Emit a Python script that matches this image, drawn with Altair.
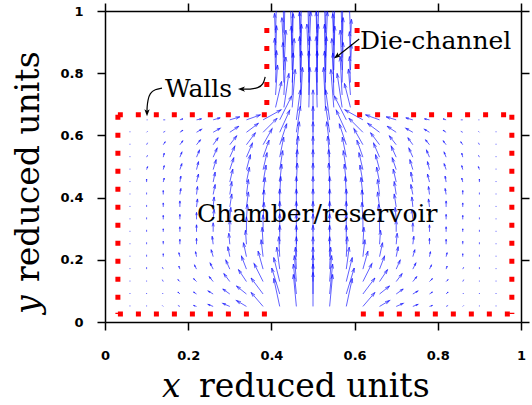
import math
import numpy as np
import pandas as pd
import altair as alt

# ---------------- data ----------------
tick_values = [0, 0.2, 0.4, 0.6, 0.8, 1]

# chamber grid (x columns, y rows)
col_x = [0.06, 0.10, 0.14, 0.18, 0.22, 0.26, 0.30, 0.34, 0.38, 0.42, 0.46, 0.50,
         0.54, 0.58, 0.62, 0.66, 0.70, 0.74, 0.78, 0.82, 0.86, 0.90, 0.94]
row_y = [0.05, 0.09, 0.13, 0.17, 0.21, 0.25, 0.29, 0.33, 0.37, 0.41, 0.45, 0.49,
         0.53, 0.57, 0.61, 0.65]

# velocity components (drawn length, px) read row by row
u05 = [0, 0, -1, -2, -3, -5, -7, -10, -12, -6, -3, 0, 3, 6, 12, 10, 7, 5, 3, 2, 1, 0, 0]
v05 = [1, 1, 1, 1, 1, 2, 3, 6, 14, 28, 32, 34, 32, 28, 14, 6, 3, 2, 1, 1, 1, 1, 1]
u09 = [0, 0, -1, -2, -3, -5, -7, -10, -12, -8, -3, 0, 3, 8, 12, 10, 7, 5, 3, 2, 1, 0, 0]
v09 = [1, 1, 1, 2, 2, 3, 5, 8, 16, 26, 30, 30, 30, 26, 16, 8, 5, 3, 2, 2, 1, 1, 1]
u13 = [0, 0, -1, -2, -3, -4, -6, -8, -9, -6, -2, 0, 2, 6, 9, 8, 6, 4, 3, 2, 1, 0, 0]
v13 = [1, 1, 2, 2, 3, 5, 8, 12, 18, 24, 26, 26, 26, 24, 18, 12, 8, 5, 3, 2, 2, 1, 1]
u17 = [0, 0, -1, -1, -2, -3, -4, -5, -5, -3, -1, 0, 1, 3, 5, 5, 4, 3, 2, 1, 1, 0, 0]
v17 = [1, 2, 2, 3, 4, 6, 9, 13, 18, 22, 22, 22, 22, 22, 18, 13, 9, 6, 4, 3, 2, 2, 1]
u21 = [0, 0, 0, -1, -1, -2, -2, -3, -2, -1, 0, 0, 0, 1, 2, 3, 2, 2, 1, 1, 0, 0, 0]
v21 = [1, 2, 3, 4, 5, 7, 10, 14, 17, 20, 20, 20, 20, 20, 17, 14, 10, 7, 5, 4, 3, 2, 1]
u25 = [0, 0, 0, 0, 0, -1, -1, -1, -1, 0, 0, 0, 0, 0, 1, 1, 1, 1, 0, 0, 0, 0, 0]
v25 = [1, 2, 3, 5, 6, 8, 11, 14, 17, 19, 19, 19, 19, 19, 17, 14, 11, 8, 6, 5, 3, 2, 1]
u29 = [0, 0, 0, 0, 0, 0, 0, 0, 0, 0, 0, 0, 0, 0, 0, 0, 0, 0, 0, 0, 0, 0, 0]
v29 = [1, 2, 3, 5, 7, 9, 12, 15, 17, 18, 18, 18, 18, 18, 17, 15, 12, 9, 7, 5, 3, 2, 1]
u33 = [0, 0, 0, 0, 0, 1, 1, 1, 1, 0, 0, 0, 0, 0, -1, -1, -1, -1, 0, 0, 0, 0, 0]
v33 = [1, 2, 4, 5, 7, 10, 12, 15, 17, 18, 18, 18, 18, 18, 17, 15, 12, 10, 7, 5, 4, 2, 1]
u37 = [0, 0, 0, 0, 1, 1, 2, 2, 1, 0, 0, 0, 0, 0, -1, -2, -2, -1, -1, 0, 0, 0, 0]
v37 = [1, 2, 4, 6, 8, 10, 13, 15, 17, 18, 18, 18, 18, 18, 17, 15, 13, 10, 8, 6, 4, 2, 1]
u41 = [0, 0, 0, 1, 1, 2, 2, 2, 2, 1, 0, 0, 0, -1, -2, -2, -2, -2, -1, -1, 0, 0, 0]
v41 = [1, 2, 4, 6, 8, 10, 13, 15, 17, 18, 18, 18, 18, 18, 17, 15, 13, 10, 8, 6, 4, 2, 1]
u45 = [0, 0, 1, 1, 2, 2, 3, 3, 3, 2, 1, 0, -1, -2, -3, -3, -3, -2, -2, -1, -1, 0, 0]
v45 = [1, 3, 4, 6, 8, 10, 13, 15, 17, 18, 19, 19, 19, 18, 17, 15, 13, 10, 8, 6, 4, 3, 1]
u49 = [0, 1, 1, 2, 2, 3, 4, 4, 4, 3, 1, 0, -1, -3, -4, -4, -4, -3, -2, -2, -1, -1, 0]
v49 = [1, 3, 4, 6, 8, 10, 12, 15, 17, 19, 20, 20, 20, 19, 17, 15, 12, 10, 8, 6, 4, 3, 1]
u53 = [0, 1, 1, 2, 3, 4, 5, 6, 6, 4, 2, 0, -2, -4, -6, -6, -5, -4, -3, -2, -1, -1, 0]
v53 = [1, 2, 4, 5, 7, 9, 11, 14, 17, 20, 21, 21, 21, 20, 17, 14, 11, 9, 7, 5, 4, 2, 1]
u57 = [0, 1, 2, 3, 4, 5, 7, 9, 9, 7, 3, 0, -3, -7, -9, -9, -7, -5, -4, -3, -2, -1, 0]
v57 = [1, 2, 3, 4, 5, 7, 9, 12, 16, 21, 23, 23, 23, 21, 16, 12, 9, 7, 5, 4, 3, 2, 1]
u61 = [0, 1, 2, 3, 5, 7, 9, 12, 14, 10, 4, 0, -4, -10, -14, -12, -9, -7, -5, -3, -2, -1, 0]
v61 = [1, 1, 1, 2, 3, 4, 6, 9, 14, 22, 26, 26, 26, 22, 14, 9, 6, 4, 3, 2, 1, 1, 1]
u65 = [0, 1, 2, 3, 5, 7, 10, 14, 18, 12, 4, 0, -4, -12, -18, -14, -10, -7, -5, -3, -2, -1, 0]
v65 = [0, 0, 0, 1, 1, 2, 3, 5, 10, 24, 30, 30, 30, 24, 10, 5, 3, 2, 1, 1, 0, 0, 0]

# die-channel grid
ch_x = [0.41, 0.43, 0.45, 0.47, 0.49, 0.51, 0.53, 0.55, 0.57, 0.59]
ch_y = [0.69, 0.73, 0.77, 0.81, 0.85, 0.89, 0.93]
cu69 = [6, 5, 3, 2, 1, -1, -2, -3, -5, -6]
cv69 = [26, 34, 38, 40, 40, 40, 40, 38, 34, 24]
cu73 = [2, 2, 1, 1, 0, 0, -1, -1, -2, -2]
cv73 = [30, 38, 42, 44, 44, 44, 44, 42, 38, 26]
cu77 = [1, -1, 2, -1, 1, -1, 1, -2, 1, -1]
cv77 = [32, 40, 44, 46, 46, 46, 46, 44, 40, 26]
cu81 = [-1, 2, -1, 1, -2, 1, -1, 1, -2, 1]
cv81 = [32, 40, 44, 46, 46, 46, 46, 44, 40, 26]
cu85 = [1, -2, 1, -1, 2, -1, 2, -1, 1, -1]
cv85 = [32, 40, 44, 46, 46, 46, 46, 44, 40, 26]
cu89 = [-1, 1, -2, 1, -1, 2, -1, 1, -1, 1]
cv89 = [32, 40, 44, 46, 46, 46, 46, 44, 40, 26]
cu93 = [1, -1, 1, -2, 1, -1, 1, -2, 1, -1]
cv93 = [32, 40, 44, 46, 46, 46, 46, 44, 40, 26]

# walls (dotted red outline), each segment listed from its start point
wall_seg = ["A", "A", "B", "B", "C", "C", "D", "D", "E", "E", "F", "F", "G", "G", "H", "H"]
wall_x = [0.031, 0.390, 0.031, 0.031, 0.389, 0.031, 0.389, 0.389,
          0.606, 0.606, 0.606, 0.978, 0.978, 0.978, 0.615, 0.978]
wall_y = [0.026, 0.026, 0.666, 0.026, 0.666, 0.666, 0.945, 0.666,
          0.945, 0.666, 0.666, 0.666, 0.666, 0.026, 0.026, 0.026]

# annotations
label_text = ["Walls", "Die-channel", "Chamber/reservoir"]
label_x = [0.144, 0.613, 0.221]
label_y = [0.723, 0.878, 0.322]

ann_id = ["w1"] * 6 + ["w2"] * 5 + ["dc"] * 2
ann_x = [0.137, 0.120, 0.108, 0.103, 0.101, 0.101,
         0.385, 0.381, 0.368, 0.349, 0.330,
         0.611, 0.560]
ann_y = [0.752, 0.748, 0.736, 0.714, 0.690, 0.676,
         0.788, 0.765, 0.752, 0.748, 0.749,
         0.910, 0.856]
ann_head_x = [0.101, 0.328, 0.557]
ann_head_y = [0.673, 0.749, 0.854]
ann_head_angle = [180, 270, 232]

# ---------------- build tables ----------------
PXX, PXY = 416.0, 311.0
chamber_u = [u05, u09, u13, u17, u21, u25, u29, u33, u37, u41, u45, u49, u53, u57, u61, u65]
chamber_v = [v05, v09, v13, v17, v21, v25, v29, v33, v37, v41, v45, v49, v53, v57, v61, v65]
channel_u = [cu69, cu73, cu77, cu81, cu85, cu89, cu93]
channel_v = [cv69, cv73, cv77, cv81, cv85, cv89, cv93]

recs = []
for yy, ur, vr in zip(row_y, chamber_u, chamber_v):
    for xx, u, v in zip(col_x, ur, vr):
        recs.append((xx, yy, u, v))
for yy, ur, vr in zip(ch_y, channel_u, channel_v):
    for xx, u, v in zip(ch_x, ur, vr):
        recs.append((xx, yy, u, v))
df = pd.DataFrame(recs, columns=["x", "y", "u", "v"])
df["x2"] = df["x"] + df["u"] / PXX
df["y2"] = df["y"] + df["v"] / PXY
L = np.hypot(df["u"], df["v"])
df["L"] = L
hl = np.minimum(4.5, 0.4 * L)
df["hsize"] = hl ** 2
df["angle"] = np.degrees(np.arctan2(df["u"], df["v"])) % 360
Ls = L.replace(0, 1)
df["hx"] = df["x2"] - 0.5 * hl * (df["u"] / Ls) / PXX
df["hy"] = df["y2"] - 0.5 * hl * (df["v"] / Ls) / PXY
heads_df = df[df["L"] >= 2.5]
shafts_df = df[df["L"] > 0]

walls_df = pd.DataFrame({"seg": wall_seg, "x": wall_x, "y": wall_y,
                         "ord": list(range(len(wall_seg)))})
labels_df = pd.DataFrame({"t": label_text, "x": label_x, "y": label_y})
ann_df = pd.DataFrame({"id": ann_id, "x": ann_x, "y": ann_y, "ord": list(range(len(ann_id)))})
annh_df = pd.DataFrame({"x": ann_head_x, "y": ann_head_y, "a": ann_head_angle})

# ---------------- chart ----------------
xs = alt.Scale(domain=[0, 1], nice=False, zero=False)
ys = alt.Scale(domain=[0, 1], nice=False, zero=False)

common = dict(values=tick_values, grid=False, title=None, domainColor="black",
              domainWidth=1.5, tickColor="black", tickWidth=1.5, tickSize=8)
lab = dict(format="~g", labelFont="DejaVu Sans", labelFontWeight="bold",
           labelFontSize=13, labelColor="black", labelFlush=False, labelOverlap=False)
x_bottom = alt.Axis(orient="bottom", labelPadding=19, **lab, **common)
y_left = alt.Axis(orient="left", labelPadding=14, **lab, **common)
x_top = alt.Axis(orient="top", labels=False, **common)
y_right = alt.Axis(orient="right", labels=False, **common)

BLUE = "#0000ff"
shafts = alt.Chart(shafts_df).mark_rule(color=BLUE, strokeWidth=1.0, opacity=0.62, clip=True).encode(
    x=alt.X("x:Q", scale=xs, axis=x_bottom),
    y=alt.Y("y:Q", scale=ys, axis=y_left),
    x2="x2:Q", y2="y2:Q")

heads = alt.Chart(heads_df).mark_point(
    shape="M-0.6,1L0,-1L0.6,1", filled=False, color=BLUE, strokeWidth=0.9,
    opacity=0.62, clip=True).encode(
    x=alt.X("hx:Q", scale=xs, axis=None),
    y=alt.Y("hy:Q", scale=ys, axis=None),
    angle=alt.Angle("angle:Q", scale=None),
    size=alt.Size("hsize:Q", scale=None))

walls = alt.Chart(walls_df).mark_line(
    color="#ff0000", strokeWidth=5, strokeDash=[5, 13], strokeCap="butt").encode(
    x=alt.X("x:Q", scale=xs, axis=x_top),
    y=alt.Y("y:Q", scale=ys, axis=y_right),
    detail="seg:N", order="ord:Q")

ann_lines = alt.Chart(ann_df).mark_line(color="black", strokeWidth=1.2, interpolate="basis").encode(
    x=alt.X("x:Q", scale=xs, axis=None),
    y=alt.Y("y:Q", scale=ys, axis=None),
    detail="id:N", order="ord:Q")

ann_heads = alt.Chart(annh_df).mark_point(
    shape="M0,-1L0.75,1L0,0.5L-0.75,1Z", filled=True, color="black", opacity=1, size=50).encode(
    x=alt.X("x:Q", scale=xs, axis=None),
    y=alt.Y("y:Q", scale=ys, axis=None),
    angle=alt.Angle("a:Q", scale=None))

labels = alt.Chart(labels_df).mark_text(
    font="DejaVu Serif", fontSize=25, align="left", baseline="alphabetic", color="black").encode(
    x=alt.X("x:Q", scale=xs, axis=None),
    y=alt.Y("y:Q", scale=ys, axis=None),
    text="t:N")

TF = "DejaVu Serif"
TS = 33
one = pd.DataFrame({"k": [0]})
xt1 = alt.Chart(one).mark_text(font=TF, fontSize=TS, fontStyle="italic", align="left",
                               baseline="alphabetic", color="black", text="x").encode(
    x=alt.value(57), y=alt.value(386))
xt2 = alt.Chart(one).mark_text(font=TF, fontSize=TS, align="left",
                               baseline="alphabetic", color="black", text="reduced units").encode(
    x=alt.value(94), y=alt.value(386))
yt1 = alt.Chart(one).mark_text(font=TF, fontSize=TS, fontStyle="italic", align="left", angle=270,
                               baseline="alphabetic", color="black", text="y").encode(
    x=alt.value(-66), y=alt.value(303))
yt2 = alt.Chart(one).mark_text(font=TF, fontSize=TS, align="left", angle=270,
                               baseline="alphabetic", color="black", text="reduced units").encode(
    x=alt.value(-66), y=alt.value(271))

chart = alt.layer(
    shafts, heads, walls, ann_lines, ann_heads, labels, xt1, xt2, yt1, yt2
).resolve_axis(x="independent", y="independent").properties(
    width=416, height=311,
    padding={"left": 105, "top": 11, "right": 11, "bottom": 83},
    autosize=alt.AutoSizeParams(type="none"),
).configure_view(stroke=None)

chart.save("out.html", embed_options={"renderer": "svg", "actions": False})
